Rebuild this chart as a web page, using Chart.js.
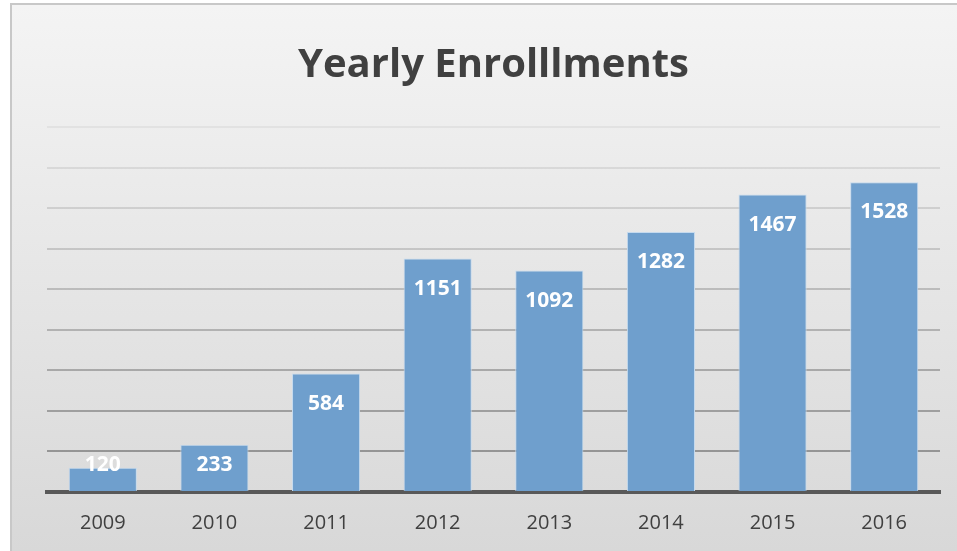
<!DOCTYPE html>
<html>
<head>
<meta charset="utf-8">
<script src="https://cdn.jsdelivr.net/npm/chart.js@4"></script>
<style>
  html, body { margin: 0; padding: 0; background: #fff; }
  #wrap { width: 957px; height: 551px; }
</style>
</head>
<body>
<div id="wrap"><canvas id="enrollChart" width="957" height="551"></canvas></div>
<script>
(() => {
  const canvas = document.getElementById('enrollChart');
  const ctx = canvas.getContext('2d');

  // 데이터
  const years = ['2009', '2010', '2011', '2012', '2013', '2014', '2015', '2016'];
  const enrollments = [120, 233, 584, 1151, 1092, 1282, 1467, 1528];
  const yMax = 1800;
  const yStep = 200;

  const FONT = '"Open Sans", "Noto Sans", sans-serif';

  // 배경 + 테두리
  const framePlugin = {
    id: 'frame',
    beforeDraw(chart) {
      const c = chart.ctx;
      const g = c.createLinearGradient(0, 5, 0, chart.height);
      g.addColorStop(0, '#f4f4f4');
      g.addColorStop(1, '#d8d8d8');
      c.save();
      c.fillStyle = '#fff';
      c.fillRect(0, 0, chart.width, chart.height);
      c.fillStyle = g;
      c.fillRect(12, 5, chart.width - 12, chart.height - 5);
      c.strokeStyle = '#c8c8c8';
      c.lineWidth = 2;
      c.strokeRect(11, 4, chart.width + 10, chart.height + 10);
      c.restore();
    }
  };

  // 막대 안쪽 값 라벨
  const labelPlugin = {
    id: 'barLabels',
    afterDatasetsDraw(chart) {
      const c = chart.ctx;
      const meta = chart.getDatasetMeta(0);
      const base = chart.scales.y.getPixelForValue(0);
      c.save();
      c.fillStyle = '#ffffff';
      c.font = 'bold 21px ' + FONT;
      c.textAlign = 'center';
      c.textBaseline = 'middle';
      meta.data.forEach((bar, i) => {
        const y = Math.min(bar.y + 30, base - 27);
        c.fillText(String(enrollments[i]), bar.x, y);
      });
      c.restore();
    }
  };

  const gridGrad = ctx.createLinearGradient(0, 127, 0, 491);
  gridGrad.addColorStop(0, '#e2e2e2');
  gridGrad.addColorStop(1, '#8c8c8c');

  window.enrollChart = new Chart(ctx, {
    type: 'bar',
    data: {
      labels: years,
      datasets: [{
        data: enrollments,
        backgroundColor: '#6f9fcd',
        borderColor: '#c5daee',
        borderWidth: 1,
        categoryPercentage: 0.61,
        barPercentage: 1
      }]
    },
    options: {
      responsive: false,
      animation: false,
      layout: { padding: { left: 47, right: 17, top: 0, bottom: -3 } },
      plugins: {
        legend: { display: false },
        tooltip: { enabled: false },
        title: {
          display: true,
          text: 'Yearly Enrolllments',
          color: '#404040',
          font: { family: FONT, size: 40, weight: 'bold' },
          padding: { top: 42, bottom: 37 }
        }
      },
      scales: {
        x: {
          grid: { display: false, drawTicks: false },
          border: { display: true, color: '#595959', width: 4 },
          ticks: { color: '#404040', font: { family: FONT, size: 20 }, padding: 19 }
        },
        y: {
          min: 0,
          max: yMax,
          ticks: { display: false, stepSize: yStep },
          grid: { color: gridGrad, lineWidth: 2, drawTicks: false },
          border: { display: false }
        }
      }
    },
    plugins: [framePlugin, labelPlugin]
  });
})();
</script>
</body>
</html>
